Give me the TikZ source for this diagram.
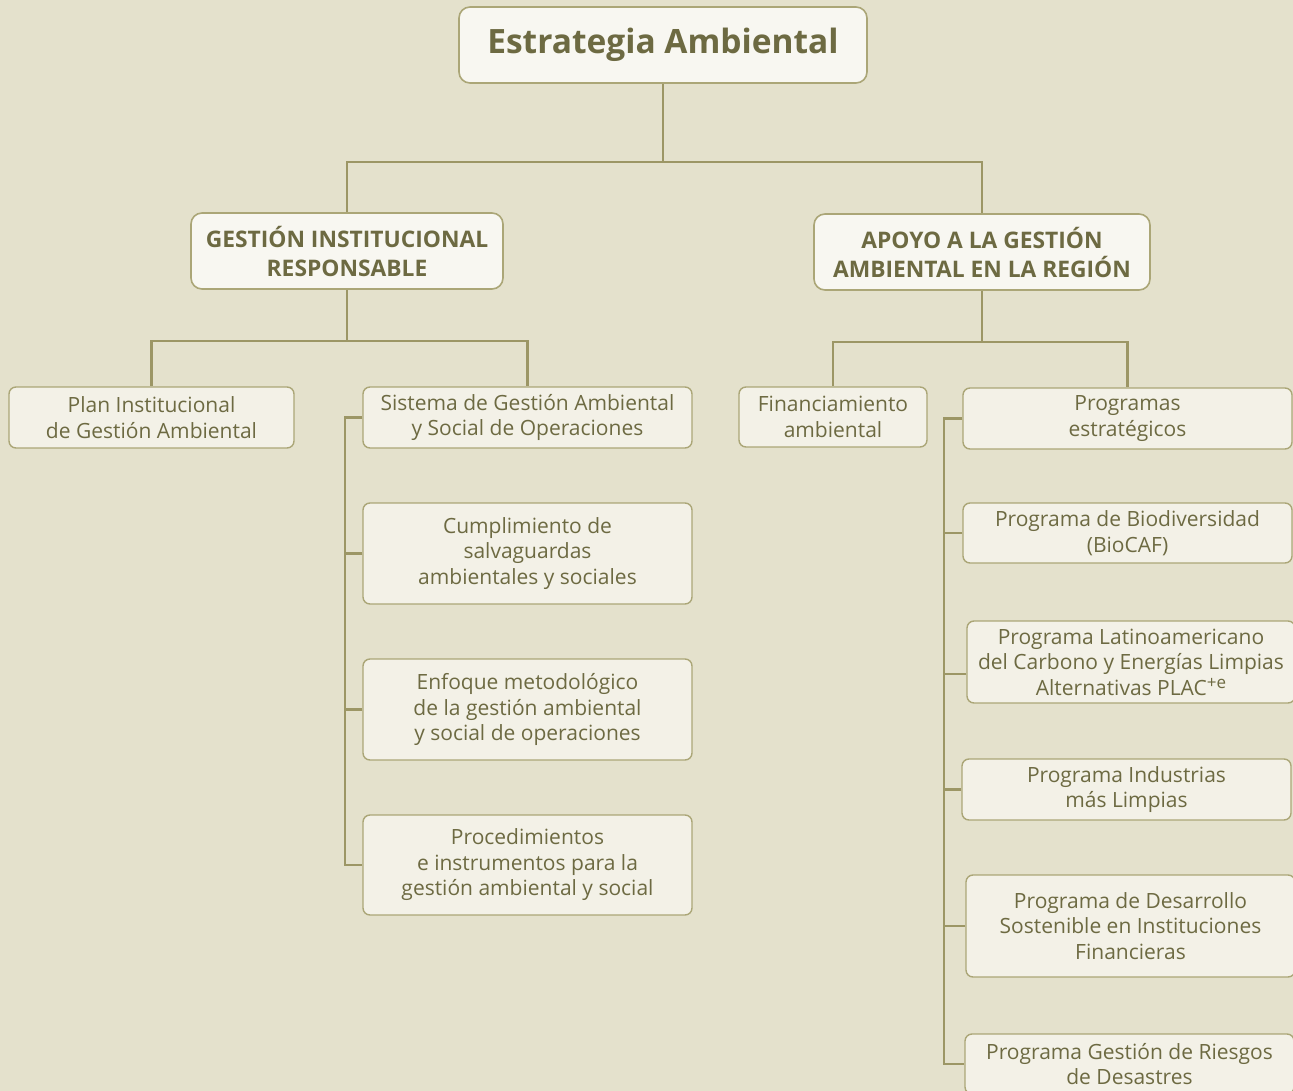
\documentclass[tikz,border=0pt]{standalone}
\usepackage{fontspec}
\setmainfont{Open Sans}
\definecolor{bg}{HTML}{E4E1CC}
\definecolor{topfill}{HTML}{F8F7F1}
\definecolor{boxfill}{HTML}{F3F1E7}
\definecolor{bordc}{HTML}{ABA677}
\definecolor{linec}{HTML}{9C9665}
\definecolor{txtc}{HTML}{6D6A42}
\tikzset{
  every node/.style={text=txtc, align=center, inner sep=0pt},
  topbox/.style={draw=bordc, line width=1.6pt, fill=topfill, rounded corners=11pt, font=\bfseries\fontsize{22.8}{29}\selectfont},
  leafbox/.style={draw=bordc, line width=1.4pt, fill=boxfill, rounded corners=7pt, font=\fontsize{21}{25.5}\selectfont},
  conn/.style={draw=linec, line width=2.3pt}
}
\begin{document}
\begin{tikzpicture}[x=1pt,y=-1pt]
\useasboundingbox (0,0) rectangle (1293,1091);
\fill[bg] (0,0) rectangle (1293,1091);
\clip (0,0) rectangle (1293,1091);
% top level
\node[topbox, minimum width=408, minimum height=76, font=\bfseries\fontsize{33.5}{38}\selectfont] (title) at (663,45) {Estrategia Ambiental};
\node[topbox, minimum width=312, minimum height=76] (gi) at (347,251) {GESTIÓN INSTITUCIONAL\\RESPONSABLE};
\node[topbox, minimum width=336, minimum height=76] (ap) at (982,252) {APOYO A LA GESTIÓN\\AMBIENTAL EN LA REGIÓN};
% left branch
\node[leafbox, minimum width=285, minimum height=61] (plan) at (151.5,417.5) {Plan Institucional\\de Gestión Ambiental};
\node[leafbox, minimum width=329, minimum height=61] (sis) at (527.5,417.5) {Sistema de Gestión Ambiental\\y Social de Operaciones};
\node[leafbox, minimum width=329, minimum height=101] (cum) at (527.5,553.5) {Cumplimiento de\\salvaguardas\\ambientales y sociales};
\node[leafbox, minimum width=329, minimum height=101] (enf) at (527.5,709.5) {Enfoque metodológico\\de la gestión ambiental\\y social de operaciones};
\node[leafbox, minimum width=329, minimum height=100] (proc) at (527.5,865) {Procedimientos\\e instrumentos para la\\gestión ambiental y social};
% right branch
\node[leafbox, minimum width=188, minimum height=60] (fin) at (833,417) {Financiamiento\\ambiental};
\node[leafbox, minimum width=329, minimum height=61] (prog) at (1127.5,418.5) {Programas\\estratégicos};
\node[leafbox, minimum width=329, minimum height=60] (bio) at (1127.5,533) {Programa de Biodiversidad\\(BioCAF)};
\node[leafbox, minimum width=328, minimum height=82] (plac) at (1131,662) {Programa Latinoamericano\\del Carbono y Energías Limpias\\Alternativas PLAC\raisebox{0.55ex}{\fontsize{17}{17}\selectfont +e}};
\node[leafbox, minimum width=329, minimum height=61] (ind) at (1126.5,789.5) {Programa Industrias\\más Limpias};
\node[leafbox, minimum width=329, minimum height=102] (des) at (1130.5,926) {Programa de Desarrollo\\Sostenible en Instituciones\\Financieras};
\node[leafbox, minimum width=329, minimum height=60] (rie) at (1129.5,1064) {Programa Gestión de Riesgos\\de Desastres};
% connectors top
\draw[conn] (title.south) -- ++(0,78) coordinate (j0);
\draw[conn] (j0) -| (gi.north);
\draw[conn] (j0) -| (ap.north);
% left
\draw[conn] (gi.south) -- ++(0,51) coordinate (j1);
\draw[conn] (j1) -| (plan.north);
\draw[conn] (j1) -| (sis.north);
\draw[conn] (sis.west) -- ++(-17,0) coordinate (lb) -- (lb |- proc.west) -- (proc.west);
\draw[conn] (cum.west) -- (cum.west -| lb);
\draw[conn] (enf.west) -- (enf.west -| lb);
% right
\draw[conn] (ap.south) -- ++(0,51) coordinate (j2);
\draw[conn] (j2) -| (fin.north);
\draw[conn] (j2) -| (prog.north);
\draw[conn] (prog.west) -- ++(-18,0) coordinate (rb) -- (rb |- rie.west) -- (rie.west);
\draw[conn] (bio.west) -- (bio.west -| rb);
\coordinate (placin) at ([yshift=-12]plac.west);
\draw[conn] (placin) -- (placin -| rb);
\draw[conn] (ind.west) -- (ind.west -| rb);
\draw[conn] (des.west) -- (des.west -| rb);
\end{tikzpicture}
\end{document}
